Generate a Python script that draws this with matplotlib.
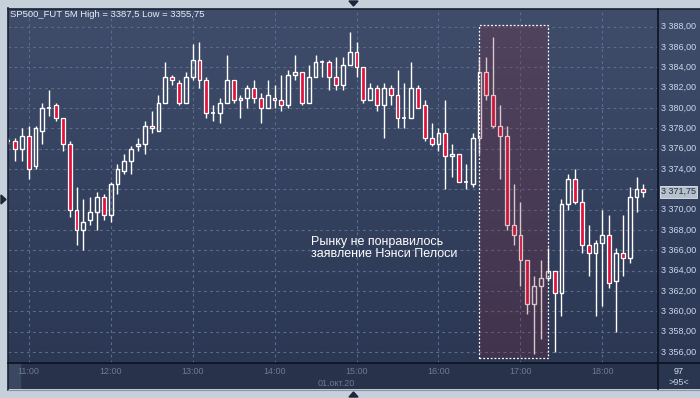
import matplotlib
matplotlib.use("Agg")
import matplotlib.pyplot as plt
import numpy as np
import pandas as pd
from matplotlib.colors import LinearSegmentedColormap
from matplotlib.patches import Rectangle, Polygon

plt.rcParams["font.family"] = ["Liberation Sans", "DejaVu Sans"]

# 5-минутные свечи SP500_FUT за 01.10.2020, первая свеча 10:45
start = "2020-10-01 10:45"
opens = [3376.75, 3376.75, 3376.0, 3377.25, 3374.25, 3377.75, 3380.0, 3380.25, 3379.0, 3376.5,
         3370.0, 3368.0, 3369.0, 3369.75, 3371.25, 3369.5, 3372.5, 3373.75, 3374.75, 3376.25,
         3376.5, 3378.25, 3377.75, 3380.5, 3383.0, 3382.5, 3380.5, 3383.0, 3384.75, 3382.75,
         3379.5, 3379.5, 3380.5, 3382.75, 3380.75, 3381.0, 3382.0, 3381.0, 3380.0, 3381.0,
         3380.75, 3380.25, 3383.25, 3383.5, 3380.5, 3383.0, 3384.5, 3384.5, 3383.0, 3382.25,
         3384.25, 3385.5, 3384.0, 3380.75, 3382.0, 3380.25, 3382.0, 3381.25, 3379.0, 3379.0,
         3382.0, 3380.25, 3377.0, 3376.5, 3377.5, 3375.25, 3375.5, 3372.75, 3372.5, 3377.0,
         3383.5, 3381.25, 3378.25, 3377.25, 3368.5, 3367.5, 3365.0, 3360.75, 3362.5, 3363.25,
         3364.0, 3361.75, 3370.5, 3373.0, 3370.75, 3366.5, 3365.75, 3366.75, 3367.5, 3363.0,
         3365.75, 3365.25, 3371.25, 3372.0]
highs = [3377.0, 3377.0, 3378.0, 3378.25, 3378.25, 3380.5, 3381.75, 3380.5, 3379.0, 3376.75,
         3372.25, 3371.0, 3371.25, 3371.75, 3371.5, 3372.75, 3374.5, 3375.5, 3376.25, 3377.0,
         3378.75, 3379.75, 3381.25, 3384.5, 3383.25, 3382.75, 3383.5, 3386.25, 3386.5, 3383.0,
         3380.25, 3381.0, 3385.25, 3382.75, 3381.25, 3382.25, 3382.75, 3381.5, 3382.75, 3382.25,
         3383.25, 3383.75, 3385.25, 3383.5, 3384.25, 3385.25, 3384.75, 3384.75, 3385.0, 3385.0,
         3387.5, 3386.5, 3384.0, 3382.5, 3382.25, 3382.5, 3382.25, 3383.75, 3382.5, 3384.5,
         3382.25, 3380.75, 3378.5, 3378.0, 3380.75, 3376.5, 3375.5, 3374.5, 3377.5, 3385.0,
         3385.0, 3387.0, 3380.25, 3378.25, 3372.5, 3370.75, 3365.0, 3363.5, 3365.0, 3366.25,
         3364.0, 3371.0, 3373.5, 3374.0, 3372.0, 3368.5, 3367.0, 3370.0, 3369.5, 3366.25,
         3369.5, 3372.25, 3373.25, 3372.5]
lows = [3376.5, 3374.75, 3374.75, 3373.0, 3374.0, 3376.5, 3379.25, 3378.75, 3375.75, 3369.25,
        3366.5, 3366.0, 3368.5, 3368.0, 3369.0, 3368.75, 3371.5, 3373.5, 3373.5, 3375.75,
        3375.5, 3377.5, 3377.75, 3380.5, 3382.25, 3380.25, 3380.5, 3382.75, 3382.0, 3379.0,
        3378.75, 3378.5, 3380.5, 3380.5, 3379.0, 3380.0, 3380.5, 3378.5, 3380.0, 3380.0,
        3379.75, 3380.0, 3382.75, 3380.25, 3380.5, 3383.0, 3383.0, 3381.75, 3381.75, 3381.75,
        3384.25, 3383.0, 3380.5, 3380.75, 3379.75, 3377.0, 3380.25, 3378.0, 3378.0, 3379.0,
        3380.0, 3376.75, 3376.25, 3375.75, 3372.0, 3373.25, 3372.75, 3372.0, 3372.25, 3375.5,
        3380.75, 3378.0, 3373.0, 3368.0, 3366.5, 3362.5, 3359.75, 3355.75, 3357.25, 3363.0,
        3356.0, 3359.5, 3370.0, 3370.5, 3365.75, 3363.5, 3359.5, 3360.5, 3362.25, 3358.0,
        3363.5, 3364.75, 3369.75, 3371.25]
closes = [3376.75, 3376.0, 3377.25, 3374.0, 3378.0, 3380.0, 3380.0, 3379.0, 3376.5, 3370.0,
          3368.0, 3368.75, 3369.75, 3371.25, 3369.5, 3372.5, 3374.0, 3374.75, 3376.0, 3376.5,
          3378.25, 3378.0, 3380.5, 3383.0, 3382.75, 3380.5, 3383.0, 3384.75, 3382.75, 3379.5,
          3379.5, 3380.5, 3382.75, 3380.75, 3381.0, 3382.0, 3381.0, 3380.0, 3381.25, 3380.75,
          3380.25, 3383.25, 3383.5, 3380.5, 3383.0, 3384.5, 3384.5, 3383.0, 3382.25, 3384.25,
          3385.5, 3384.0, 3380.75, 3382.0, 3380.25, 3382.0, 3381.25, 3379.0, 3379.0, 3382.0,
          3380.0, 3377.0, 3376.5, 3377.5, 3375.25, 3375.5, 3372.75, 3372.75, 3377.0, 3383.5,
          3381.25, 3378.25, 3377.25, 3368.5, 3367.5, 3365.0, 3360.75, 3362.5, 3363.25, 3364.0,
          3361.75, 3370.5, 3373.0, 3370.75, 3366.5, 3365.75, 3366.75, 3367.5, 3362.75, 3365.75,
          3365.25, 3371.25, 3372.0, 3371.75]

hour_labels = ["11:00", "12:00", "13:00", "14:00", "15:00", "16:00", "17:00", "18:00"]
date_label = "01.окт.20"
title = "SP500_FUT 5M High = 3387,5 Low = 3355,75"
note = "Рынку не понравилось\nзаявление Нэнси Пелоси"
zone = ("16:30", "17:20")       # выделенный участок
price_ticks = np.arange(3356, 3389, 2)
corner_top, corner_bottom = "97", ">95<"

W, H = 700, 398
BG_TOP, BG_BOT = "#3f4d6b", "#2b3753"
GRID = "#5c6d8c"
RED = "#e3123c"


def fmt_price(p):
    return f"{p:,.2f}".replace(",", "X").replace(".", ",").replace("X", " ")


times = pd.date_range(start, periods=len(opens), freq="5min")
hm = list(times.strftime("%H:%M"))
x = np.arange(len(opens)) - hm.index("11:00")
o, h, l, c = map(np.array, (opens, highs, lows, closes))
top, bot = np.maximum(o, c), np.minimum(o, c)

fig = plt.figure(figsize=(W / 100, H / 100), dpi=100, facecolor="#c6d0db")

L, R = 8 / W, 658 / W
B, T = 1 - 363 / H, 1 - 9 / H
xlim = (-3.03, 92.14)
ylim = (3354.9, 3389.74)
cmap = LinearSegmentedColormap.from_list("bg", [BG_BOT, BG_TOP])
grad = np.linspace(0, 1, 256).reshape(-1, 1)

ax = fig.add_axes([L, B, R - L, T - B])
ax.imshow(grad, cmap=cmap, aspect="auto", origin="lower",
          extent=(*xlim, *ylim), zorder=0)
ax.set_xlim(xlim)
ax.set_ylim(ylim)
ax.axis("off")

for p in price_ticks:
    ax.axhline(p, color=GRID, lw=0.8, ls=(0, (2.5, 3)), zorder=1)
hour_x = [x[hm.index(t)] for t in hour_labels]
for hx in hour_x:
    ax.axvline(hx, color=GRID, lw=0.8, ls=(0, (2.5, 3)), zorder=1)

# свечи
ax.vlines(x, top, h, color="white", lw=1, zorder=3)
ax.vlines(x, l, bot, color="white", lw=1, zorder=3)
up = c > o
dn = c < o
dj = c == o
ax.bar(x[up], (c - o)[up], bottom=o[up], width=0.56, facecolor="none",
       edgecolor="white", lw=1, zorder=4)
ax.bar(x[dn], (o - c)[dn], bottom=c[dn], width=0.56, facecolor=RED,
       edgecolor="white", lw=0.9, zorder=4)
ax.hlines(c[dj], x[dj] - 0.3, x[dj] + 0.3, color="white", lw=1.2, zorder=4)

# выделение
zx0, zx1 = x[hm.index(zone[0])], x[hm.index(zone[1])]
ax.add_patch(Rectangle((zx0, 3355.4), zx1 - zx0, 32.8, facecolor="#7f2a3c",
                       alpha=0.27, edgecolor="none", zorder=5))
ax.add_patch(Rectangle((zx0, 3355.4), zx1 - zx0, 32.8, facecolor="none",
                       edgecolor="white", lw=0.9, ls=(0, (1.5, 1.5)), zorder=6))

ax.text(41.3, 3366.2, note, color="white", fontsize=9, va="center",
        ha="left", linespacing=1.05, zorder=7)

# правая шкала (метка под плашкой последней цены не видна)
axr = fig.add_axes([R, B, 1 - R, T - B])
axr.imshow(grad, cmap=cmap, aspect="auto", origin="lower",
           extent=(0, 1, *ylim), zorder=0)
axr.set_xlim(0, 1)
axr.set_ylim(ylim)
axr.axis("off")
for p in price_ticks:
    if abs(p - c[-1]) < 1.2:
        continue
    axr.text(0.06, p, fmt_price(p), color="#cddaee", fontsize=6.5,
             va="center", ha="left")
axr.text(0.07, c[-1], fmt_price(c[-1]), color="#1f2b40", fontsize=6.5,
         va="center", ha="left",
         bbox=dict(boxstyle="square,pad=0.15", fc="#b7c1cc", ec="#e2e8ef", lw=0.6))

# шкала времени
axt = fig.add_axes([L, 1 - 389 / H, R - L, 26 / H])
axt.set_facecolor("#28324b")
axt.set_xlim(xlim)
axt.set_ylim(0, 1)
axt.set_xticks([])
axt.set_yticks([])
for s in axt.spines.values():
    s.set_visible(False)
axt.axvspan(xlim[0], -1.3, color="#3a4862")
for hx, lab in zip(hour_x, hour_labels):
    axt.text(hx, 0.66, lab, color="#6b7a93", fontsize=6.5, ha="center", va="center")
axt.text(45.1, 0.22, date_label, color="#6b7a93", fontsize=6.5, ha="center", va="center")

axc = fig.add_axes([R, 1 - 389 / H, 1 - R, 26 / H])
axc.set_facecolor("#2a3550")
axc.set_xticks([])
axc.set_yticks([])
for s in axc.spines.values():
    s.set_visible(False)
axc.text(0.5, 0.68, corner_top, color="#d5e0ee", fontsize=6.5, ha="center", va="center")
axc.text(0.5, 0.24, corner_bottom, color="#c3cfe0", fontsize=6.5, ha="center", va="center")

# рамка, заголовок, маркеры
axo = fig.add_axes([0, 0, 1, 1], zorder=10)
axo.set_xlim(0, W)
axo.set_ylim(H, 0)
axo.axis("off")
axo.plot([7.5, 7.5], [8, 389.5], color="#1a2233", lw=1.2)
axo.plot([7.5, W], [8.5, 8.5], color="#1a2233", lw=1.2)
axo.plot([7.5, W], [389.5, 389.5], color="#8a96a6", lw=0.8)
axo.plot([7.5, W], [363.3, 363.3], color="#0c1220", lw=1.2)
axo.plot([658, 658], [8.5, 389], color="#0c1220", lw=1.2)
axo.add_patch(Polygon([(349, 1), (358, 1), (353.5, 6)], color="#1c2638"))
axo.add_patch(Polygon([(349, 397), (358, 397), (353.5, 392)], color="#1c2638"))
axo.add_patch(Polygon([(1, 195), (1, 204), (6, 199.5)], color="#1c2638"))
axo.text(10.5, 14.8, title, color="#e8eef6", fontsize=6.8, va="center", ha="left")

fig.savefig("out.png", dpi=100, facecolor=fig.get_facecolor())
